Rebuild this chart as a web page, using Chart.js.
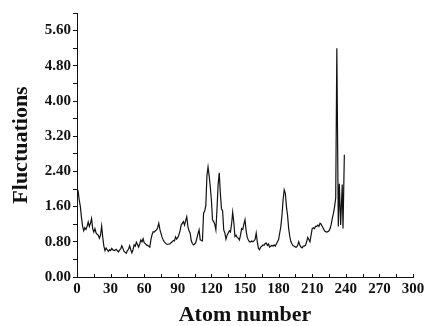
<!DOCTYPE html>
<html>
<head>
<meta charset="utf-8">
<script src="https://cdn.jsdelivr.net/npm/chart.js@4/dist/chart.umd.min.js"></script>
<style>
html,body{margin:0;padding:0;background:#fff;}
#wrap{width:435px;height:326px;position:relative;}
</style>
</head>
<body>
<div id="wrap"><canvas id="c" width="435" height="326"></canvas></div>
<script>
const atoms = [0,1,2,3,4,5,6,7,8,9,10,11,12,13,14,15,16,17,18,19,20,21,22,23,24,25,26,27,28,29,30,31,32,33,34,35,36,37,38,39,40,41,42,43,44,45,46,47,48,49,50,51,52,53,54,55,56,57,58,59,60,61,62,63,64,65,66,67,68,69,70,71,72,73,74,75,76,77,78,79,80,81,82,83,84,85,86,87,88,89,90,91,92,93,94,95,96,97,98,99,100,101,102,103,104,105,106,107,108,109,110,111,112,113,114,115,116,117,118,119,120,121,122,123,124,125,126,127,128,129,130,131,132,133,134,135,136,137,138,139,140,141,142,143,144,145,146,147,148,149,150,151,152,153,154,155,156,157,158,159,160,161,162,163,164,165,166,167,168,169,170,171,172,173,174,175,176,177,178,179,180,181,182,183,184,185,186,187,188,189,190,191,192,193,194,195,196,197,198,199,200,201,202,203,204,205,206,207,208,209,210,211,212,213,214,215,216,217,218,219,220,221,222,223,224,225,226,227,228,229,230,231,232,233.3,234.2,235.4,236.8,237.5,238.7];
const fluctuations = [2.02,1.95,1.75,1.60,1.35,1.15,1.05,1.12,1.08,1.15,1.25,1.15,1.22,1.33,1.10,1.02,1.10,1.00,0.97,0.95,0.88,0.95,1.16,0.90,0.70,0.60,0.66,0.62,0.58,0.62,0.60,0.65,0.62,0.60,0.61,0.63,0.60,0.57,0.61,0.64,0.71,0.65,0.58,0.56,0.54,0.60,0.63,0.71,0.62,0.55,0.62,0.73,0.70,0.79,0.74,0.68,0.75,0.84,0.80,0.87,0.78,0.76,0.73,0.72,0.70,0.68,0.85,0.96,1.03,1.02,1.05,1.07,1.12,1.22,1.08,0.99,0.90,0.84,0.80,0.77,0.75,0.74,0.75,0.75,0.78,0.80,0.83,0.82,0.91,0.86,0.90,0.96,1.05,1.18,1.22,1.26,1.18,1.28,1.37,1.15,1.05,1.00,0.83,0.76,0.73,0.75,0.78,0.88,0.98,1.07,0.85,0.83,0.82,1.45,1.50,1.62,2.30,2.50,2.30,2.05,1.75,1.30,1.26,1.20,1.07,1.55,2.10,2.37,1.90,1.55,1.50,1.07,1.00,0.86,0.95,1.00,1.05,1.02,1.20,1.47,1.25,0.92,0.95,0.90,0.88,0.84,0.95,1.10,1.08,1.20,1.30,1.05,0.90,0.84,0.80,0.80,0.82,0.80,0.82,0.85,1.00,0.80,0.65,0.62,0.68,0.70,0.73,0.72,0.76,0.77,0.72,0.75,0.68,0.70,0.72,0.70,0.73,0.70,0.75,0.80,0.85,1.00,1.15,1.40,1.75,1.98,1.90,1.60,1.40,1.10,0.92,0.80,0.75,0.71,0.70,0.68,0.68,0.72,0.80,0.72,0.68,0.66,0.70,0.70,0.72,0.80,0.90,0.85,0.80,0.95,1.10,1.12,1.10,1.15,1.15,1.18,1.15,1.22,1.20,1.15,1.10,1.05,1.03,1.02,1.03,1.05,1.10,1.20,1.34,1.45,1.60,1.80,5.20,1.15,2.12,1.18,2.10,1.10,2.78];
const xTickLabels = [0,30,60,90,120,150,180,210,240,270,300];
const yTickLabels = ['0.00','0.80','1.60','2.40','3.20','4.00','4.80','5.60'];

const points = atoms.map((a,i)=>({x:a,y:fluctuations[i]}));
const serif = "'Liberation Serif','DejaVu Serif',serif";

const innerTicks = {
  id:'innerTicks',
  afterDraw(chart){
    const s = chart.scales.x, ctx = chart.ctx;
    ctx.save();
    ctx.strokeStyle = '#111';
    ctx.lineWidth = 1;
    s.ticks.forEach((t,i)=>{
      const px = Math.round(s.getPixelForTick(i))+0.5;
      ctx.beginPath();
      ctx.moveTo(px, s.top);
      ctx.lineTo(px, s.top-3);
      ctx.stroke();
    });
    ctx.restore();
  }
};

new Chart(document.getElementById('c'), {
  type:'line',
  data:{datasets:[{data:points,borderColor:'#111',borderWidth:1.2,pointRadius:0,tension:0,fill:false}]},
  options:{
    responsive:false,animation:false,
    layout:{padding:{top:13,right:22,left:0,bottom:0}},
    plugins:{legend:{display:false},tooltip:{enabled:false}},
    scales:{
      x:{type:'linear',min:0,max:300,
        afterFit(s){s.height=49;},
        grid:{drawOnChartArea:false,drawTicks:false},
        border:{display:true,color:'#111',width:1},
        ticks:{stepSize:15,autoSkip:false,maxRotation:0,padding:3,color:'#111',
          font:{family:serif,size:15,weight:'bold'},
          callback:(v)=>xTickLabels.includes(v)?String(v):''},
        title:{display:true,text:'Atom number',color:'#111',padding:{top:0,bottom:0},
          font:{family:serif,size:22,weight:'bold',lineHeight:1}}
      },
      y:{type:'linear',min:0,max:6.0,
        afterFit(s){s.width=77;},
        grid:{drawOnChartArea:false,drawTicks:true,tickLength:4,color:'#111'},
        border:{display:true,color:'#111',width:1},
        ticks:{stepSize:0.4,autoSkip:false,padding:2,color:'#111',
          font:{family:serif,size:15,weight:'bold'},
          callback:(v)=>{const k=Math.round(v/0.4);return (k%2===0 && k/2<yTickLabels.length)?yTickLabels[k/2]:'';}},
        title:{display:true,text:'Fluctuations',color:'#111',padding:{top:10,bottom:0},
          font:{family:serif,size:22,weight:'bold',lineHeight:1}}
      }
    }
  },
  plugins:[innerTicks]
});
</script>
</body>
</html>
